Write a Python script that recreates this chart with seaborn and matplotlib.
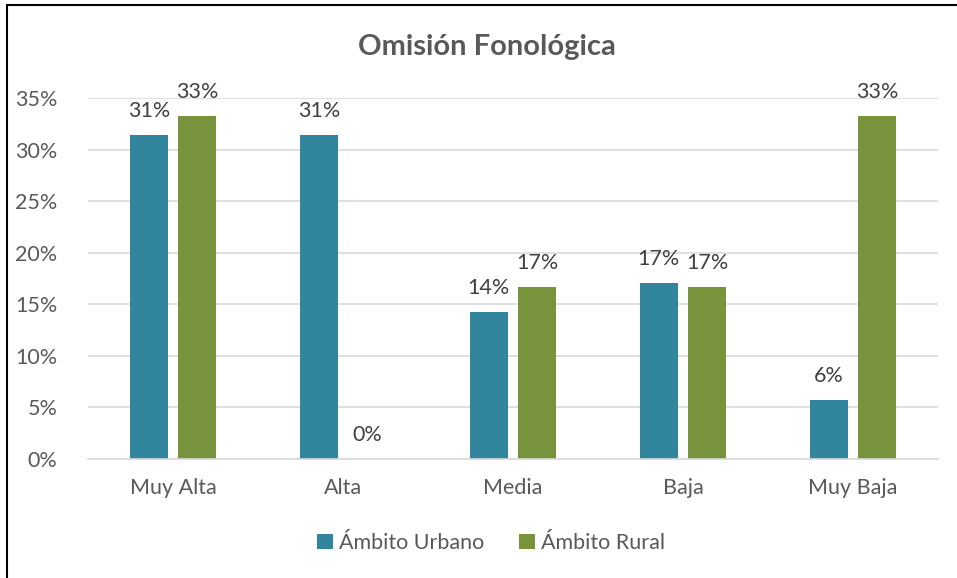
import matplotlib
matplotlib.use("Agg")
import matplotlib.pyplot as plt
from matplotlib.lines import Line2D
from matplotlib.patches import Patch
import seaborn as sns
import pandas as pd

categories = ["Muy Alta", "Alta", "Media", "Baja", "Muy Baja"]
series_names = ["Ámbito Urbano", "Ámbito Rural"]
urbano = [31.4, 31.4, 14.3, 17.1, 5.7]
rural = [33.3, 0.0, 16.7, 16.7, 33.3]
yticks = [0, 5, 10, 15, 20, 25, 30, 35]
colors = ["#31859C", "#77933C"]

df = pd.DataFrame({
    "cat": categories * 2,
    "serie": [series_names[0]] * 5 + [series_names[1]] * 5,
    "val": urbano + rural,
})

sns.set_theme(style="white")
plt.rcParams["font.family"] = ["Lato", "DejaVu Sans"]

fig = plt.figure(figsize=(9.57, 5.78), dpi=100)
ax = fig.add_axes([88 / 957, 119 / 578, 850 / 957, 361 / 578])

sns.barplot(data=df, x="cat", y="val", hue="serie", order=categories,
            hue_order=series_names, palette=colors, width=0.57, gap=0.21,
            saturation=1, ax=ax, legend=False, edgecolor="none")

ax.set_ylim(0, 35)
ax.set_xlim(-0.5, 4.5)
ax.set_yticks(yticks)
ax.set_yticklabels([f"{v}%" for v in yticks])
ax.grid(axis="y", color="#D9D9D9", linewidth=1.2)
ax.set_axisbelow(True)
for s in ["top", "right", "left"]:
    ax.spines[s].set_visible(False)
ax.spines["bottom"].set_color("#D9D9D9")
ax.spines["bottom"].set_linewidth(1.2)
ax.tick_params(axis="both", length=0, labelsize=15.5, colors="#595959")
ax.tick_params(axis="y", pad=22)
ax.tick_params(axis="x", pad=14)
ax.set_xlabel("")
ax.set_ylabel("")

for cont in ax.containers:
    ax.bar_label(cont, labels=[f"{v:.0f}%" for v in cont.datavalues],
                 padding=10, fontsize=15.5, color="#404040")

fig.text(487 / 957, 1 - 47 / 578, "Omisión Fonológica", ha="center", va="center",
         fontsize=21, fontweight="bold", color="#595959")

handles = [Patch(facecolor=c, edgecolor="none") for c in colors]
fig.legend(handles, series_names, loc="center", bbox_to_anchor=(491 / 957, 1 - 543 / 578),
           ncol=2, frameon=False, fontsize=15.5, handlelength=0.75, handleheight=0.75,
           handletextpad=0.3, columnspacing=1.6, labelcolor="#595959")

fig.add_artist(Line2D([7 / 957, 7 / 957], [0, 1 - 5 / 578], color="black", linewidth=1.5))
fig.add_artist(Line2D([7 / 957, 1], [1 - 5 / 578, 1 - 5 / 578], color="black", linewidth=1.5))

fig.savefig("out.png", dpi=100)
